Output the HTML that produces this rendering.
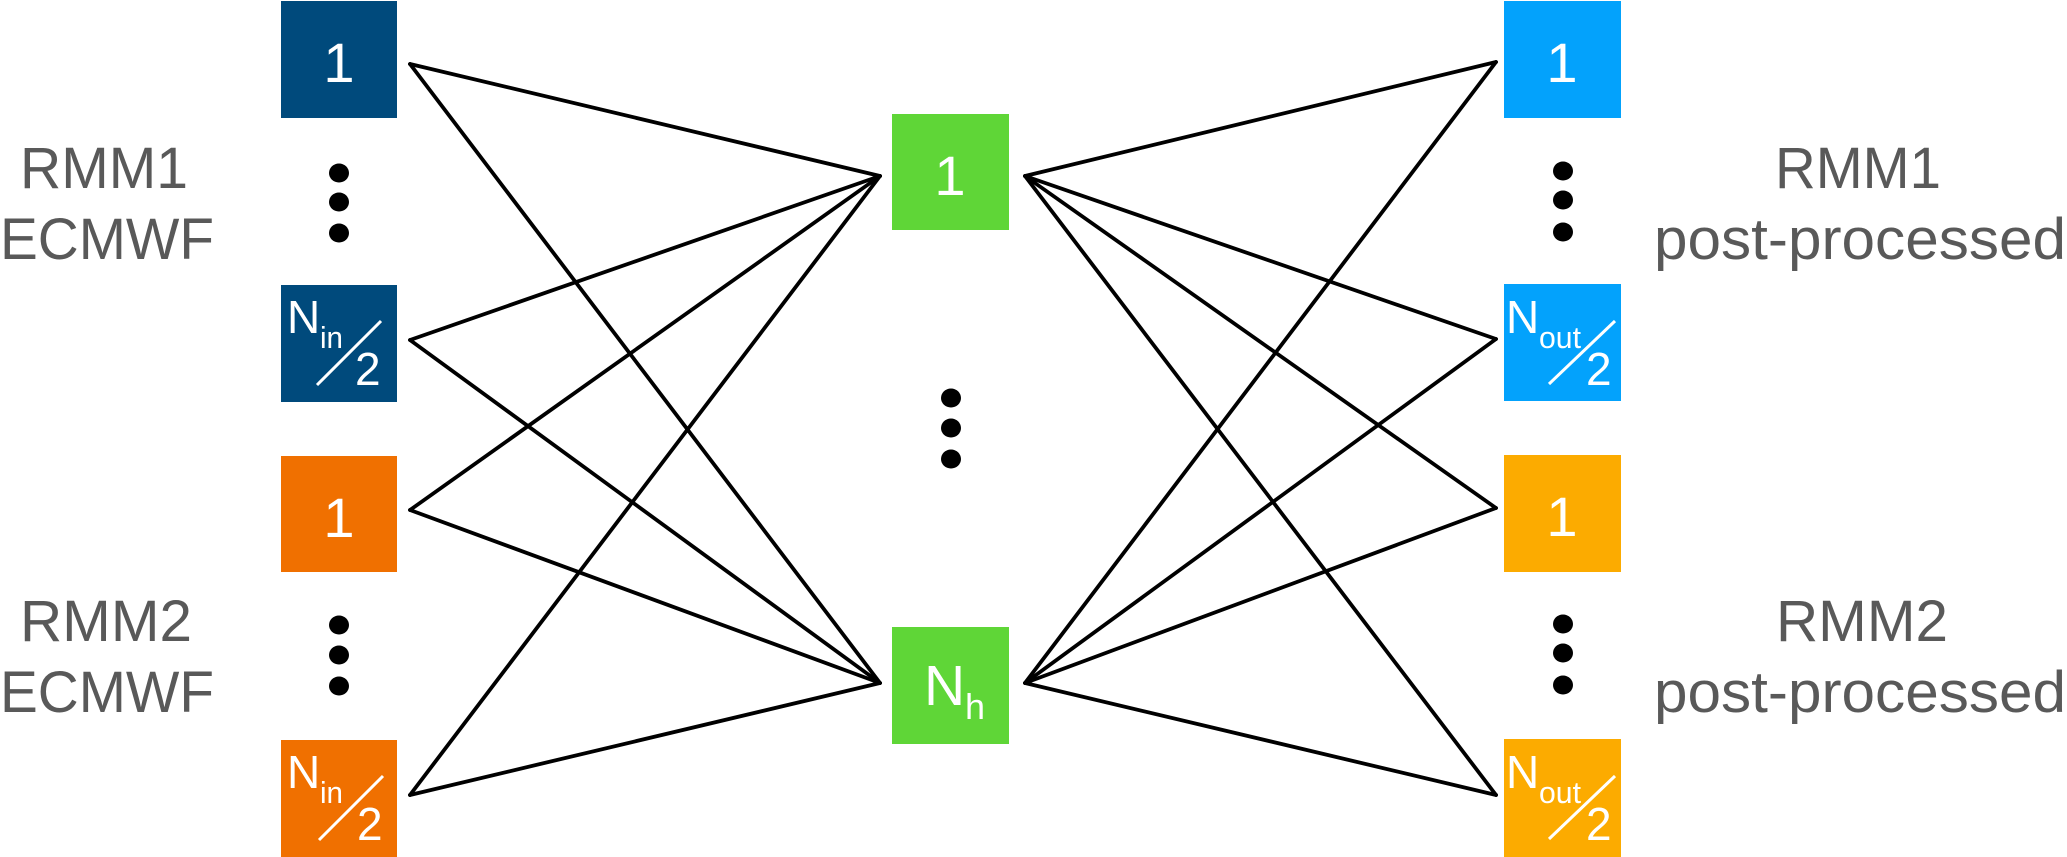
<!DOCTYPE html>
<html><head><meta charset="utf-8"><style>
html,body{margin:0;padding:0;background:#fff}
svg{display:block}
text{font-family:"Liberation Sans",sans-serif}
</style></head><body>
<svg width="2067" height="857" viewBox="0 0 2067 857" xmlns="http://www.w3.org/2000/svg">
<rect x="281" y="1" width="116" height="117" fill="#004a7c"/>
<rect x="281" y="285" width="116" height="117" fill="#004a7c"/>
<rect x="281" y="456" width="116" height="116" fill="#f07000"/>
<rect x="281" y="740" width="116" height="117" fill="#f07000"/>
<rect x="892" y="114" width="117" height="116" fill="#5fd637"/>
<rect x="892" y="627" width="117" height="117" fill="#5fd637"/>
<rect x="1504" y="1" width="117" height="117" fill="#03a2fc"/>
<rect x="1504" y="284" width="117" height="117" fill="#03a2fc"/>
<rect x="1504" y="455" width="117" height="117" fill="#fcab00"/>
<rect x="1504" y="739" width="117" height="118" fill="#fcab00"/>
<g stroke="#000" stroke-width="3.8" fill="none" stroke-linecap="round">
<line x1="410" y1="64" x2="880" y2="176"/><line x1="410" y1="64" x2="880" y2="683"/>
<line x1="410" y1="340" x2="880" y2="176"/><line x1="410" y1="340" x2="880" y2="683"/>
<line x1="410" y1="510" x2="880" y2="176"/><line x1="410" y1="510" x2="880" y2="683"/>
<line x1="410" y1="795" x2="880" y2="176"/><line x1="410" y1="795" x2="880" y2="683"/>
<line x1="1025" y1="176" x2="1496" y2="62"/><line x1="1025" y1="176" x2="1496" y2="339"/>
<line x1="1025" y1="176" x2="1496" y2="508"/><line x1="1025" y1="176" x2="1496" y2="795"/>
<line x1="1025" y1="683" x2="1496" y2="62"/><line x1="1025" y1="683" x2="1496" y2="339"/>
<line x1="1025" y1="683" x2="1496" y2="508"/><line x1="1025" y1="683" x2="1496" y2="795"/>
</g>
<g fill="#000">
<ellipse cx="339" cy="173" rx="10" ry="9.5"/><ellipse cx="339" cy="202" rx="10" ry="9.5"/><ellipse cx="339" cy="233" rx="10" ry="9.5"/>
<ellipse cx="339" cy="625" rx="10" ry="9.5"/><ellipse cx="339" cy="655" rx="10" ry="9.5"/><ellipse cx="339" cy="686" rx="10" ry="9.5"/>
<ellipse cx="951" cy="398" rx="10" ry="9.5"/><ellipse cx="951" cy="428" rx="10" ry="9.5"/><ellipse cx="951" cy="459" rx="10" ry="9.5"/>
<ellipse cx="1563" cy="171" rx="10" ry="9.5"/><ellipse cx="1563" cy="200" rx="10" ry="9.5"/><ellipse cx="1563" cy="232" rx="10" ry="9.5"/>
<ellipse cx="1563" cy="624" rx="10" ry="9.5"/><ellipse cx="1563" cy="653" rx="10" ry="9.5"/><ellipse cx="1563" cy="685" rx="10" ry="9.5"/>
</g>
<g fill="#595959" font-size="58" text-anchor="middle">
<text x="104" y="188" textLength="168" lengthAdjust="spacingAndGlyphs">RMM1</text>
<text x="107" y="259" textLength="214" lengthAdjust="spacingAndGlyphs">ECMWF</text>
<text x="106" y="641" textLength="172" lengthAdjust="spacingAndGlyphs">RMM2</text>
<text x="107" y="712" textLength="214" lengthAdjust="spacingAndGlyphs">ECMWF</text>
<text x="1858" y="188" textLength="166" lengthAdjust="spacingAndGlyphs">RMM1</text>
<text x="1860" y="259" textLength="412" lengthAdjust="spacingAndGlyphs">post-processed</text>
<text x="1862" y="641" textLength="172" lengthAdjust="spacingAndGlyphs">RMM2</text>
<text x="1860" y="712" textLength="412" lengthAdjust="spacingAndGlyphs">post-processed</text>
</g>
<g fill="#fff" font-size="56" text-anchor="middle">
<text x="339" y="82">1</text><text x="339" y="537">1</text>
<text x="950" y="195">1</text>
<text x="1562" y="82">1</text><text x="1562" y="536">1</text>
</g>
<g fill="#fff">
<text x="287" y="333" font-size="46">N</text><text x="320" y="348" font-size="31" textLength="23" lengthAdjust="spacingAndGlyphs">in</text>
<text x="355" y="385" font-size="46">2</text>
<line x1="381" y1="321" x2="317" y2="385" stroke="#fff" stroke-width="3"/>
<text x="287" y="788" font-size="46">N</text><text x="320" y="803" font-size="31" textLength="23" lengthAdjust="spacingAndGlyphs">in</text>
<text x="357" y="840" font-size="46">2</text>
<line x1="383" y1="776" x2="319" y2="840" stroke="#fff" stroke-width="3"/>
<text x="1506" y="333" font-size="46">N</text><text x="1539" y="348" font-size="31" textLength="42" lengthAdjust="spacingAndGlyphs">out</text>
<text x="1586" y="385" font-size="46">2</text>
<line x1="1615" y1="321" x2="1549" y2="384" stroke="#fff" stroke-width="3"/>
<text x="1506" y="788" font-size="46">N</text><text x="1539" y="803" font-size="31" textLength="42" lengthAdjust="spacingAndGlyphs">out</text>
<text x="1586" y="840" font-size="46">2</text>
<line x1="1615" y1="776" x2="1549" y2="839" stroke="#fff" stroke-width="3"/>
<text x="924" y="705" font-size="57">N</text><text x="965" y="719" font-size="36">h</text>
</g>
</svg>
</body></html>
